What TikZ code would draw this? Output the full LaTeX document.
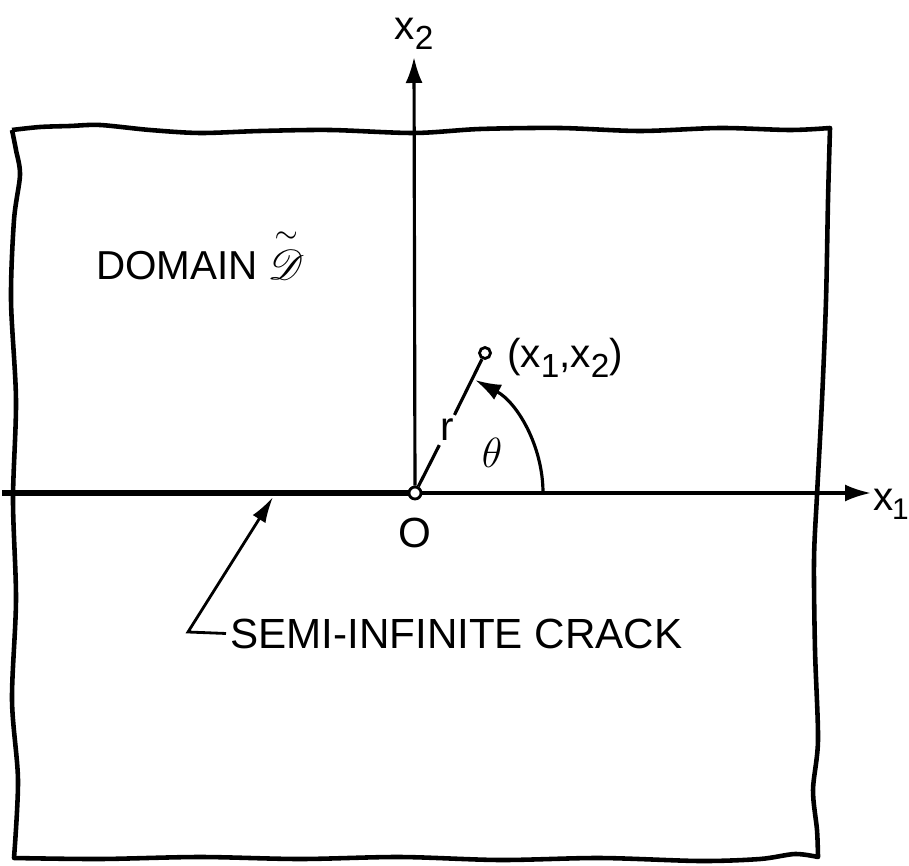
\documentclass[tikz,border=0pt]{standalone}
\usepackage{amsmath}
\usepackage{fontspec}
\setmainfont{Liberation Sans}
\usepackage{mathrsfs}
\usetikzlibrary{arrows.meta,positioning}

\tikzset{
  dot/.style={circle, draw, fill=white, line width=.8pt, inner sep=0pt, minimum size=1.1mm},
  lbl/.style={font=\fontsize{11.5}{13}\selectfont, inner sep=1pt},
  axe/.style={line width=.9pt, -{Latex[length=2.6mm,width=1.7mm]}}
}
\newcommand\sbs[1]{\raisebox{-.45ex}{\fontsize{9.5}{10}\selectfont #1}}

\begin{document}
\begin{tikzpicture}[x=0.1mm,y=0.1mm]
\useasboundingbox (0,0) rectangle (909,865);

% Domaine
\draw[line width=1.3pt, line join=round]
  plot[smooth] coordinates {(12,735) (40,738) (70,739) (100,740) (150,735) (200,732) (260,734) (330,735) (414,732) (480,736) (560,737) (640,734) (720,737) (790,735) (830,737)}
  -- plot[smooth] coordinates {(830,737) (828,665) (826,565) (822,465) (817,370) (814,305) (815,215) (818,125) (813,75) (817,35) (818,8)}
  -- plot[smooth] coordinates {(818,8) (795,11) (760,6) (700,4) (600,7) (500,5) (400,8) (300,6) (200,8) (100,6) (14,7)}
  -- plot[smooth] coordinates {(14,7) (18,85) (12,165) (16,265) (13,365) (16,465) (11,565) (14,645) (20,690) (16,715) (12,735)};

\node[lbl, anchor=base west] (domain) at (92,585) {DOMAIN\hspace{1mm}$\overset{\sim}{\mathscr{D}}$};

% Points
\node[dot, minimum size=1.2mm] (origin) at (415,372) {};
\node[dot] (point) at (485,512) {};
\coordinate (crackL) at (2,372);
\coordinate (x1end) at (871,372);
\coordinate (x2end) at (414,808);
\coordinate (arcstart) at (543,372);

% Axes
\draw[line width=1.8pt] (crackL) -- (origin);
\draw[axe] (origin) -- (x1end);
\draw[axe] (origin) -- (x2end);
\node[lbl, above=1pt of x2end] (x2lbl) {x\sbs{2}};
\node[lbl, inner sep=0pt, anchor=base west] (x1lbl) at (873,355) {x\kern-.5pt\sbs{\fontsize{8.5}{9}\selectfont 1}};
\node[lbl, font=\fontsize{12}{14}\selectfont, below=1.3mm of origin] (olbl) {O};

% Rayon et angle
\node[lbl] (rlbl) at (447,435) {r};
\draw[line width=.9pt] (origin) -- (rlbl) -- (point);
\draw[axe] (arcstart) arc[start angle=0, end angle=62, radius=128];
\node[lbl, font=\fontsize{12}{14}\selectfont] (theta) at (492,412) {$\theta$};
\node[lbl, anchor=base west] (ptlbl) at (503,497) {(x\sbs{1},x\sbs{2})};

% Fissure
\node[lbl, font=\fontsize{12}{14}\selectfont, anchor=base west] (crack) at (226,217) {SEMI-INFINITE CRACK};
\coordinate (bend) at (188,233);
\coordinate (tip) at (273,368);
\draw[line width=.8pt, -{Latex[length=2.6mm,width=1.5mm]}] (crack.west) -- (bend) -- (tip);
\end{tikzpicture}
\end{document}
